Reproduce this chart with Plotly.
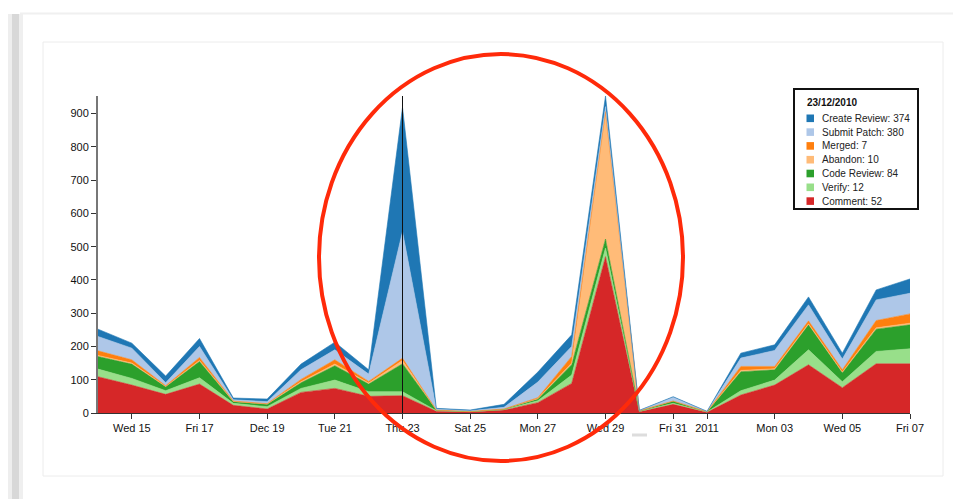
import plotly.graph_objects as go

dates = ["2010-12-14", "2010-12-15", "2010-12-16", "2010-12-17", "2010-12-18",
         "2010-12-19", "2010-12-20", "2010-12-21", "2010-12-22", "2010-12-23",
         "2010-12-24", "2010-12-25", "2010-12-26", "2010-12-27", "2010-12-28",
         "2010-12-29", "2010-12-30", "2010-12-31", "2011-01-01", "2011-01-02",
         "2011-01-03", "2011-01-04", "2011-01-05", "2011-01-06", "2011-01-07"]

comment     = [109, 84, 56, 87, 23, 12, 62, 74, 50, 52, 5, 3, 9, 31, 89, 470, 4, 26, 2, 54, 84, 145, 76, 148, 148]
verify      = [23, 20, 11, 19, 6, 7, 12, 25, 14, 12, 2, 1, 1, 6, 25, 26, 1, 3, 1, 13, 15, 45, 18, 37, 45]
code_review = [38, 43, 12, 49, 5, 7, 17, 43, 23, 84, 2, 1, 2, 5, 31, 27, 1, 7, 1, 57, 31, 75, 27, 67, 72]
abandon     = [3, 3, 1, 3, 1, 1, 3, 5, 3, 10, 0, 0, 0, 1, 5, 380, 1, 0, 0, 4, 3, 3, 2, 4, 5]
merged      = [14, 10, 2, 9, 1, 1, 7, 13, 5, 7, 0, 0, 0, 3, 20, 3, 0, 0, 0, 12, 7, 9, 7, 22, 28]
submit      = [43, 35, 9, 33, 4, 6, 29, 30, 22, 380, 3, 2, 5, 47, 30, 15, 1, 11, 1, 25, 48, 48, 32, 62, 62]
create      = [22, 15, 20, 24, 5, 8, 17, 23, 13, 374, 2, 2, 9, 30, 35, 32, 0, 2, 0, 15, 17, 24, 18, 30, 43]

# stacking order bottom -> top
series_names = ["Comment", "Verify", "Code Review", "Abandon", "Merged", "Submit Patch", "Create Review"]
series_values = [comment, verify, code_review, abandon, merged, submit, create]
series_colors = ["#d62728", "#98df8a", "#2ca02c", "#ffbb78", "#ff7f0e", "#aec7e8", "#1f77b4"]

tick_dates = ["2010-12-15", "2010-12-17", "2010-12-19", "2010-12-21", "2010-12-23",
              "2010-12-25", "2010-12-27", "2010-12-29", "2010-12-31", "2011-01-01",
              "2011-01-03", "2011-01-05", "2011-01-07"]
tick_labels = ["Wed 15", "Fri 17", "Dec 19", "Tue 21", "Thu 23", "Sat 25", "Mon 27",
               "Wed 29", "Fri 31", "2011", "Mon 03", "Wed 05", "Fri 07"]

highlight_date = "2010-12-23"
highlight_label = "23/12/2010"

# the page body has an 8px margin; the figure starts at screen (8, 8)
OFF = 8
SW, SH = 961, 499
PL, PR, PT, PB = 98, 910, 96, 413          # plot area in screen pixels
W, H = SW - OFF, SH - OFF
ML, MT = PL - OFF, PT - OFF
MR, MB = SW - PR, SH - PB
PW, PH = PR - PL, PB - PT


def px(x):
    return (x - PL) / PW


def py(y):
    return (PB - y) / PH


fig = go.Figure()
for name, vals, col in zip(series_names, series_values, series_colors):
    fig.add_trace(go.Scatter(
        x=dates, y=vals, name=name, stackgroup="one", mode="lines",
        line=dict(width=0.6, color=col), fillcolor=col, hoverinfo="skip",
        showlegend=False))

totals = [sum(v) for v in zip(*series_values)]
ymax = max(totals)

font = "Liberation Sans, Arial, Helvetica, sans-serif"

shapes = []
annotations = []

# page decorations
shapes.append(dict(type="rect", xref="paper", yref="paper", x0=px(8), x1=px(12), y0=py(499), y1=py(14),
                   fillcolor="#eeeeee", line=dict(width=0), layer="below"))
shapes.append(dict(type="rect", xref="paper", yref="paper", x0=px(12), x1=px(19), y0=py(499), y1=py(14),
                   fillcolor="#d8d8d8", line=dict(width=0), layer="below"))
shapes.append(dict(type="rect", xref="paper", yref="paper", x0=px(19), x1=px(23), y0=py(499), y1=py(14),
                   fillcolor="#efefef", line=dict(width=0), layer="below"))
shapes.append(dict(type="line", xref="paper", yref="paper", x0=px(20), x1=px(961), y0=py(13.5), y1=py(13.5),
                   line=dict(color="#f0f0f0", width=2), layer="below"))
shapes.append(dict(type="rect", xref="paper", yref="paper", x0=px(43), x1=px(943), y0=py(476), y1=py(42),
                   line=dict(color="#ececec", width=1), fillcolor="rgba(0,0,0,0)", layer="below"))
shapes.append(dict(type="rect", xref="paper", yref="paper", x0=px(632), x1=px(647), y0=py(436.5), y1=py(433.5),
                   fillcolor="#dddddd", line=dict(width=0)))

# hover line at highlighted date
shapes.append(dict(type="line", xref="x", yref="paper", x0=highlight_date, x1=highlight_date, y0=0, y1=1,
                   line=dict(color="#111111", width=1)))

# red ellipse overlay
shapes.append(dict(type="circle", xref="paper", yref="paper", x0=px(319), x1=px(683), y0=py(461), y1=py(54),
                   line=dict(color="#ff2a0a", width=4)))

# tooltip box
shapes.append(dict(type="rect", xref="paper", yref="paper", x0=px(794), x1=px(918), y0=py(209), y1=py(89),
                   line=dict(color="#111111", width=2), fillcolor="white"))
annotations.append(dict(xref="paper", yref="paper", x=px(805), y=py(102), text="<b>" + highlight_label + "</b>",
                        showarrow=False, xanchor="left", yanchor="middle",
                        font=dict(family=font, size=10, color="#111")))
hi = dates.index(highlight_date)
row_y = 118.3
for name, vals, col in zip(reversed(series_names), reversed(series_values), reversed(series_colors)):
    shapes.append(dict(type="rect", xref="paper", yref="paper", x0=px(806.5), x1=px(814),
                       y0=py(row_y + 3.8), y1=py(row_y - 3.8), fillcolor=col, line=dict(width=0)))
    annotations.append(dict(xref="paper", yref="paper", x=px(820), y=py(row_y),
                            text=f"{name}: {vals[hi]}", showarrow=False, xanchor="left", yanchor="middle",
                            font=dict(family=font, size=10, color="#222")))
    row_y += 13.8

fig.update_layout(
    width=W, height=H,
    margin=dict(l=ML, r=MR, t=MT, b=MB, pad=0),
    paper_bgcolor="white", plot_bgcolor="white",
    font=dict(family=font, size=11, color="#111"),
    showlegend=False,
    shapes=shapes, annotations=annotations,
    xaxis=dict(range=[dates[0], dates[-1]], tickvals=tick_dates, ticktext=tick_labels,
               showgrid=False, zeroline=False, showline=True, linecolor="#333", linewidth=1,
               ticks="outside", ticklen=5, tickcolor="#333", tickfont=dict(size=11, color="#111")),
    yaxis=dict(range=[0, ymax], tickvals=list(range(0, 1000, 100)),
               showgrid=False, zeroline=False, showline=True, linecolor="#777", linewidth=2,
               ticks="outside", ticklen=5, tickcolor="#333", tickfont=dict(size=11, color="#111")),
)

fig.write_html("out.html")
